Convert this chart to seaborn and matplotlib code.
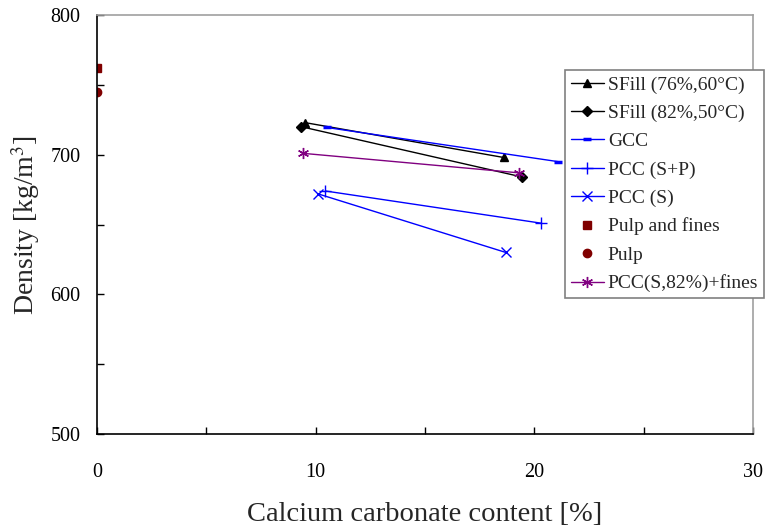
import matplotlib
matplotlib.use("Agg")
import matplotlib.pyplot as plt
import seaborn as sns
import pandas as pd

# series values
sfill76_x = [9.5, 18.6]
sfill76_y = [723, 698]
sfill82_x = [9.35, 19.45]
sfill82_y = [720, 684]
gcc_x = [10.5, 21.1]
gcc_y = [719.5, 695]
pcc_sp_x = [10.45, 20.3]
pcc_sp_y = [674, 651]
pcc_s_x = [10.1, 18.7]
pcc_s_y = [672, 630]
pulp_fines_x = [0]
pulp_fines_y = [762]
pulp_x = [0]
pulp_y = [745]
pcc_fines_x = [9.4, 19.3]
pcc_fines_y = [701, 687]

sns.set_style("ticks")
plt.rcParams['font.family'] = ['Liberation Serif', 'DejaVu Serif']
plt.rcParams['mathtext.fontset'] = 'stix'

fig = plt.figure(figsize=(7.66, 5.3), dpi=100)
ax = fig.add_axes([0.1266, 0.181, 0.8564, 0.7907])

series = [
    ("SFill (76%,60°C)", sfill76_x, sfill76_y, "black", "^", 6, True),
    ("SFill (82%,50°C)", sfill82_x, sfill82_y, "black", "D", 5, True),
    ("GCC", gcc_x, gcc_y, "#0000ff", "_", 6, True),
    ("PCC (S+P)", pcc_sp_x, pcc_sp_y, "#0000ff", "+", 8, True),
    ("PCC (S)", pcc_s_x, pcc_s_y, "#0000ff", "x", 7, True),
    ("Pulp and fines", pulp_fines_x, pulp_fines_y, "#800000", "s", 6, False),
    ("Pulp", pulp_x, pulp_y, "#800000", "o", 6, False),
    ("PCC(S,82%)+fines", pcc_fines_x, pcc_fines_y, "#800080", (6, 2, 0), 8, True),
]

for name, xs, ys, col, mk, ms, line in series:
    df = pd.DataFrame({"x": xs, "y": ys})
    sns.lineplot(data=df, x="x", y="y", ax=ax, color=col, marker=mk,
                 markersize=ms, markeredgecolor=col, markerfacecolor=col,
                 markeredgewidth=2.5 if mk == "_" else 1.0,
                 linewidth=1.0 if line else 0, sort=False, label=name)

ax.set_xlim(0, 30)
ax.set_ylim(500, 800)
ax.set_xticks([0, 5, 10, 15, 20, 25, 30])
ax.set_xticklabels(["0", "", "10", "", "20", "", "30"])
ax.set_yticks([500, 550, 600, 650, 700, 750, 800])
ax.set_yticklabels(["500", "", "600", "", "700", "", "800"])
ax.tick_params(direction="in", length=5, width=1, labelsize=14.5, colors="black")
ax.tick_params(axis="x", pad=21)
ax.tick_params(axis="y", pad=12)

for s in ["left", "bottom"]:
    ax.spines[s].set_color("black")
    ax.spines[s].set_linewidth(1.2)
for s in ["top", "right"]:
    ax.spines[s].set_color("#a0a0a0")
    ax.spines[s].set_linewidth(1.2)

ax.set_xlabel("Calcium carbonate content [%]", fontsize=20.5, labelpad=14)
ax.set_ylabel("Density [kg/m$^3$]", fontsize=20, labelpad=6)

leg = ax.legend(loc="upper left", bbox_to_anchor=(565 / 766, 1 - 70 / 530),
                bbox_transform=fig.transFigure, fontsize=14, frameon=True,
                fancybox=False, edgecolor="#808080", framealpha=1,
                borderpad=0.3, labelspacing=0.55, handlelength=1.7,
                handletextpad=0.2, borderaxespad=0)
leg.get_frame().set_linewidth(1.2)

fig.savefig("out.png", dpi=100)
